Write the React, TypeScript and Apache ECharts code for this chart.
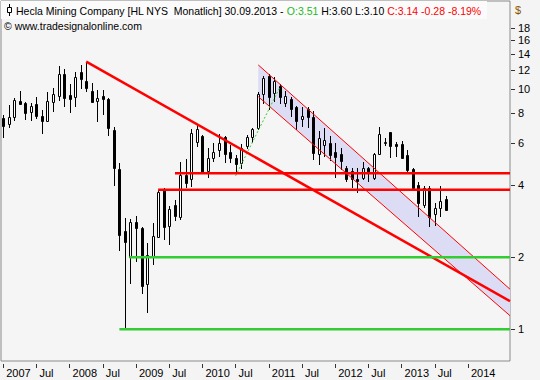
import React, { useEffect, useRef } from 'react';
import * as echarts from 'echarts';

// Monthly candles, Jan 2007 .. Sep 2013 (index 0 = Jan 2007)
const START_YEAR = 2007;
const opens = [
  7.62, 7.16, 7.65, 8.93, 8.81, 8.08, 8.70, 7.75, 7.41, 8.89, 9.42, 11.57,
  9.45, 9.28, 11.79, 10.85, 9.85, 8.95, 9.39, 9.13, 6.76, 4.65, 2.58, 2.00,
  2.81, 2.64, 1.54, 2.02, 2.43, 3.81, 2.70, 3.30, 2.95, 4.40, 4.22, 6.06,
  6.40, 4.57, 5.16, 5.59, 6.36, 5.46, 5.19, 4.92, 5.81, 6.36, 6.89, 9.57,
  11.38, 9.64, 10.34, 8.81, 9.10, 8.47, 7.53, 8.27, 7.65, 5.40, 5.87, 6.00,
  5.46, 5.40, 4.69, 4.58, 4.25, 4.26, 4.72, 4.26, 5.40, 6.02, 6.63, 5.92,
  5.92, 5.33, 4.65, 4.00, 3.30, 3.87, 3.02, 3.22, 3.51,
];
const highs = [
  7.80, 8.61, 9.19, 9.85, 8.89, 8.76, 9.28, 8.21, 9.73, 10.17, 12.53, 12.17,
  10.54, 11.79, 12.65, 13.05, 10.67, 9.95, 9.95, 9.20, 6.99, 4.92, 2.90, 2.88,
  2.97, 2.66, 2.28, 2.77, 3.81, 3.87, 3.28, 3.46, 5.00, 5.11, 6.82, 7.18,
  6.45, 5.69, 6.00, 6.52, 6.40, 5.87, 5.33, 5.92, 6.46, 6.88, 9.73, 11.38,
  11.60, 11.24, 10.54, 9.88, 9.33, 8.50, 8.47, 8.43, 8.10, 6.70, 6.89, 6.40,
  6.00, 5.69, 4.80, 4.70, 4.70, 5.00, 4.76, 5.45, 6.95, 6.26, 6.66, 6.06,
  6.12, 5.59, 4.69, 4.12, 3.96, 3.94, 3.35, 3.94, 3.60,
];
const lows = [
  6.29, 6.93, 7.39, 8.61, 7.46, 7.41, 7.53, 6.54, 7.35, 8.08, 8.98, 8.43,
  8.00, 8.47, 10.02, 9.79, 8.85, 7.34, 7.80, 6.42, 3.97, 2.13, 1.00, 1.54,
  1.90, 1.40, 1.17, 1.85, 2.42, 2.36, 2.25, 2.84, 2.86, 3.89, 3.93, 5.74,
  4.50, 4.26, 5.00, 5.24, 4.92, 4.95, 4.47, 4.65, 5.63, 5.96, 6.80, 8.70,
  8.20, 8.89, 8.70, 8.47, 7.70, 6.78, 6.95, 6.89, 5.10, 4.84, 5.24, 5.05,
  4.26, 4.60, 4.10, 3.87, 3.70, 4.19, 4.12, 4.20, 5.38, 5.80, 5.18, 5.24,
  5.11, 4.54, 3.81, 2.95, 3.22, 2.66, 2.70, 2.93, 3.10,
];
const closes = [
  7.06, 7.68, 9.06, 8.67, 7.95, 8.53, 7.77, 7.41, 8.95, 9.55, 11.57, 9.24,
  9.15, 11.30, 11.06, 10.17, 8.89, 9.24, 9.10, 6.93, 4.69, 2.47, 2.32, 2.79,
  2.65, 1.52, 2.04, 2.46, 3.75, 2.68, 3.17, 2.97, 4.40, 4.09, 6.60, 6.82,
  4.54, 5.16, 5.47, 6.00, 5.38, 5.19, 4.89, 5.69, 6.32, 6.82, 9.57, 11.13,
  9.30, 10.88, 9.33, 9.39, 8.27, 7.41, 7.77, 7.70, 5.45, 6.26, 6.16, 5.33,
  5.24, 5.05, 4.22, 4.22, 4.15, 4.72, 4.47, 5.40, 6.52, 6.06, 5.80, 5.80,
  5.16, 4.62, 3.87, 3.37, 3.87, 2.95, 3.22, 3.43, 3.14,
];

// Axis ticks
const yTickValues = [1, 2, 4, 6, 8, 10, 12, 14, 16, 18];
const xTickMonths = [0, 6, 12, 18, 24, 30, 36, 42, 48, 54, 60, 66, 72, 78, 84];
const X_MIN = -0.4;
const X_MAX = 91.6;
const Y_MIN = 0.738;
const Y_MAX = 23.37;

// Drawn studies [monthIndex, price]
const trendLine = [[15, 13.05], [91.6, 1.31]];
const resistanceUpper = [[31.05, 4.47], [91.6, 4.47]];
const resistanceLower = [[28.0, 3.82], [91.6, 3.82]];
const supportUpper = [[22.8, 2.0], [91.6, 2.0]];
const supportLower = [[21.0, 1.0], [91.6, 1.0]];
const channelUpper = [[46.1, 12.65], [91.6, 1.47]];
const channelLower = [[46.1, 9.33], [91.6, 1.14]];
const riseLine = [[42.0, 4.36], [50.0, 10.2]];

const FONT = 'Liberation Sans, Arial, sans-serif';

export default function App() {
  const ref = useRef<HTMLDivElement>(null);
  useEffect(() => {
    if (!ref.current) return;
    const chart = echarts.init(ref.current, undefined, { renderer: 'svg' });
    const candleData = opens.map((o, i) => [i, o, highs[i], lows[i], closes[i]]);

    const lineSeries = (data: number[][], color: string, width: number, type: any = 'solid', z = 5) => ({
      type: 'line',
      data,
      symbol: 'none',
      silent: true,
      z,
      lineStyle: { color, width, type },
    });

    chart.setOption({
      animation: false,
      backgroundColor: '#f4f4f4',
      grid: {
        left: 1,
        right: 30,
        top: 1,
        bottom: 19,
        show: true,
        borderColor: '#8a8a8a',
        borderWidth: 1,
        backgroundColor: '#f5f5f5',
      },
      xAxis: {
        type: 'value',
        min: X_MIN,
        max: X_MAX,
        offset: 3,
        splitLine: { show: false },
        axisLine: { show: false },
        axisTick: {
          show: true,
          customValues: xTickMonths,
          length: 4,
          lineStyle: { color: '#333' },
        },
        axisLabel: {
          customValues: xTickMonths,
          formatter: (v: number) => (Math.round(v) % 12 === 0 ? String(START_YEAR + Math.round(v) / 12) : 'Jul'),
          align: 'left',
          padding: [0, 0, 0, 3],
          margin: 3,
          color: '#000',
          fontSize: 11,
          fontFamily: FONT,
        },
      },
      yAxis: {
        type: 'log',
        logBase: 2,
        position: 'right',
        min: Y_MIN,
        max: Y_MAX,
        splitLine: { show: false },
        axisLine: { show: false },
        axisTick: { show: false },
        axisLabel: { show: false },
      },
      series: [
        {
          type: 'custom',
          silent: true,
          z: 1,
          clip: true,
          data: [[channelUpper[0][0], channelUpper[0][1]]],
          renderItem: (_p: any, api: any) => {
            const a = api.coord(channelUpper[0]);
            const b = api.coord(channelUpper[1]);
            const c = api.coord(channelLower[1]);
            const d = api.coord(channelLower[0]);
            return {
              type: 'polygon',
              shape: { points: [a, b, c, d] },
              style: { fill: '#dcdcf4', stroke: 'none' },
            };
          },
        },
        {
          type: 'custom',
          silent: true,
          z: 3,
          clip: true,
          data: candleData,
          encode: { x: 0, y: [1, 2, 3, 4] },
          renderItem: (_p: any, api: any) => {
            const i = api.value(0);
            const o = api.value(1);
            const h = api.value(2);
            const l = api.value(3);
            const c = api.value(4);
            const pO = api.coord([i, o]);
            const pC = api.coord([i, c]);
            const pH = api.coord([i, h]);
            const pL = api.coord([i, l]);
            const cx = Math.round(pO[0]);
            const top = Math.round(Math.min(pO[1], pC[1]));
            const bot = Math.round(Math.max(pO[1], pC[1]));
            const up = c >= o;
            return {
              type: 'group',
              children: [
                {
                  type: 'line',
                  shape: { x1: cx + 0.5, y1: Math.round(pH[1]), x2: cx + 0.5, y2: Math.round(pL[1]) },
                  style: { stroke: '#000', lineWidth: 1 },
                },
                {
                  type: 'rect',
                  shape: { x: cx - 0.5, y: top + 0.5, width: 2, height: Math.max(bot - top, 1) },
                  style: { fill: up ? '#ffffff' : '#000000', stroke: '#000', lineWidth: 1 },
                },
              ],
            };
          },
        },
        lineSeries(channelUpper, '#ff0000', 1, 'solid', 6),
        lineSeries(channelLower, '#ff0000', 1, 'solid', 6),
        lineSeries(riseLine, '#33cc33', 1, [2, 2], 6),
        lineSeries(trendLine, '#ff0000', 2.5, 'solid', 7),
        lineSeries(resistanceUpper, '#ff0000', 2.5, 'solid', 7),
        lineSeries(resistanceLower, '#ff0000', 2.5, 'solid', 7),
        lineSeries(supportUpper, '#33cc33', 2.5, 'solid', 7),
        lineSeries(supportLower, '#33cc33', 2.5, 'solid', 7),
      ],
    });

    // Right price scale: positions come from the chart's own log axis
    const axisX = 510;
    const yLabels: any[] = [];
    yTickValues.forEach((v) => {
      const py = Math.round(chart.convertToPixel({ yAxisIndex: 0 }, v) as number);
      yLabels.push({
        type: 'line',
        shape: { x1: axisX + 1, y1: py + 0.5, x2: axisX + 5, y2: py + 0.5 },
        style: { stroke: '#333', lineWidth: 1 },
        z: 103,
      });
      yLabels.push({
        type: 'text',
        x: axisX + 8,
        y: py,
        z: 103,
        style: { text: String(v), verticalAlign: 'middle', fill: '#000', font: '11px ' + FONT },
      });
    });

    chart.setOption({
      graphic: [
        { type: 'rect', shape: { x: 1, y: 1, width: 486, height: 18 }, style: { fill: '#fbfbfb' }, z: 100 },
        { type: 'line', shape: { x1: 9.5, y1: 4, x2: 9.5, y2: 16 }, style: { stroke: '#000', lineWidth: 1 }, z: 101 },
        { type: 'rect', shape: { x: 7.5, y: 7.5, width: 4, height: 5 }, style: { fill: '#fff', stroke: '#000', lineWidth: 1 }, z: 102 },
        {
          type: 'text',
          x: 16,
          y: 11,
          z: 103,
          style: {
            text: '{k|Hecla Mining Company [HL NYS  Monatlich] 30.09.2013 - }{g|O:3.51}{k| H:3.60 L:3.10 }{r|C:3.14 -0.28 -8.19%}',
            verticalAlign: 'middle',
            font: '10.5px ' + FONT,
            rich: {
              k: { fill: '#000', fontSize: 10.5, fontFamily: FONT },
              g: { fill: '#1fb81f', fontSize: 10.5, fontFamily: FONT },
              r: { fill: '#ff0000', fontSize: 10.5, fontFamily: FONT },
            },
          },
        },
        {
          type: 'text',
          x: 4,
          y: 26,
          z: 103,
          style: { text: '© www.tradesignalonline.com', verticalAlign: 'middle', fill: '#000', font: '10.5px ' + FONT },
        },
        {
          type: 'text',
          x: 515,
          y: 10,
          z: 103,
          style: { text: '$', verticalAlign: 'middle', fill: '#8a5500', font: '11px ' + FONT },
        },
        ...yLabels,
      ],
    });
    return () => chart.dispose();
  }, []);
  return (
    <div
      ref={ref}
      style={{ position: 'fixed', left: 0, top: 0, width: 540, height: 380, background: '#f4f4f4' }}
    />
  );
}
